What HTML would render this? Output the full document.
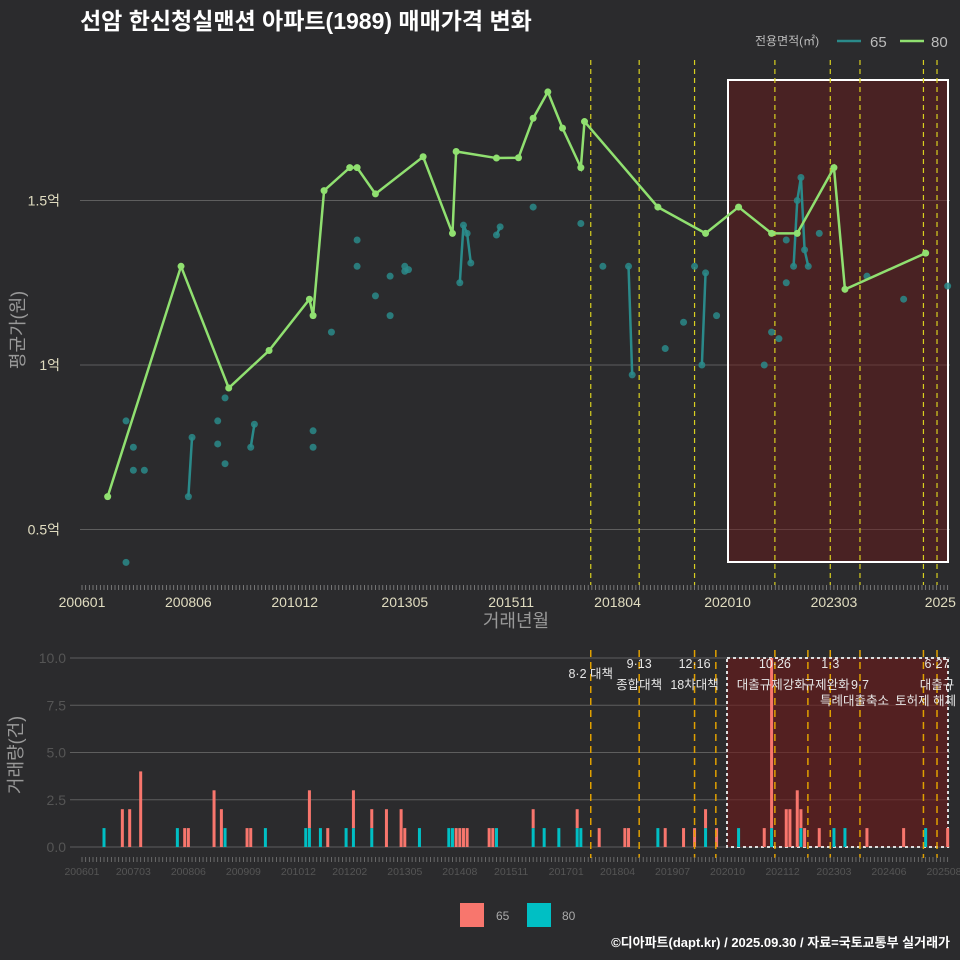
<!DOCTYPE html>
<html><head><meta charset="utf-8">
<style>
html,body{margin:0;padding:0;background:#2b2b2d;}
svg{display:block;font-family:"Liberation Sans","Noto Sans CJK KR",sans-serif;}
</style></head>
<body>
<svg id="c" width="960" height="960" viewBox="0 0 960 960">
<rect x="0" y="0" width="960" height="960" fill="#2b2b2d"/>
<text x="80" y="29" fill="#ffffff" font-size="23" font-weight="bold">선암 한신청실맨션 아파트(1989) 매매가격 변화</text>
<g>
<text x="755" y="45" fill="#bbbbbb" font-size="12">전용면적(㎡)</text>
<line x1="837" y1="41" x2="861" y2="41" stroke="#2a8a8a" stroke-width="2.5"/>
<text x="870" y="47" fill="#bbbbbb" font-size="15">65</text>
<line x1="900" y1="41" x2="924" y2="41" stroke="#90e070" stroke-width="2.5"/>
<text x="931" y="47" fill="#bbbbbb" font-size="15">80</text>
</g>
<g id="topG"></g>
<g id="botG"></g>
<text x="516" y="627" fill="#999999" font-size="18" text-anchor="middle">거래년월</text>
<text transform="translate(24,330) rotate(-90)" fill="#999999" font-size="18" text-anchor="middle">평균가(원)</text>
<text transform="translate(22,755) rotate(-90)" fill="#999999" font-size="18" text-anchor="middle">거래량(건)</text>
<g>
<rect x="460" y="903" width="24" height="24" fill="#f8766d"/>
<text x="496" y="920" fill="#aaaaaa" font-size="12">65</text>
<rect x="527" y="903" width="24" height="24" fill="#00bfc4"/>
<text x="562" y="920" fill="#aaaaaa" font-size="12">80</text>
</g>
<text x="950" y="947" fill="#ffffff" font-size="13" font-weight="bold" text-anchor="end">©디아파트(dapt.kr) / 2025.09.30 / 자료=국토교통부 실거래가</text>
</svg>
<script>
// months since 2006-01
const months80 = [7,27,40,51,62,63,66,73,75,80,93,101,102,113,119,123,127,131,136,137,157,170,179,188,195,205,208,230];
const price80 = [0.60,1.30,0.93,1.044,1.20,1.15,1.53,1.60,1.60,1.52,1.633,1.40,1.649,1.629,1.63,1.75,1.83,1.72,1.60,1.74,1.48,1.40,1.48,1.40,1.40,1.60,1.23,1.34];
const months65 = [12,12,14,14,17,29,30,37,37,39,39,46,47,63,63,68,75,75,80,84,84,88,88,89,103,104,105,106,113,114,123,136,142,149,150,159,164,167,169,170,173,186,188,190,192,192,194,195,196,197,198,201,214,224,236];
const price65 = [0.83,0.40,0.75,0.68,0.68,0.60,0.78,0.83,0.76,0.90,0.70,0.75,0.82,0.80,0.75,1.10,1.38,1.30,1.21,1.27,1.15,1.30,1.285,1.29,1.25,1.425,1.40,1.31,1.395,1.42,1.48,1.43,1.30,1.30,0.97,1.05,1.13,1.30,1.00,1.28,1.15,1.00,1.10,1.08,1.38,1.25,1.30,1.50,1.57,1.35,1.30,1.40,1.27,1.20,1.24];
const yTicks = [0.5,1,1.5];
const yTickLabels = ["0.5억","1억","1.5억"];
const xTickMonths = [0,29,58,88,117,146,176,205,234];
const xTickLabels = ["200601","200806","201012","201305","201511","201804","202010","202303","2025"];
const volMonths65 = [11,13,16,28,29,36,38,45,46,62,67,74,79,83,87,88,102,103,104,105,111,112,123,135,141,148,149,159,164,167,170,173,186,188,192,193,195,196,197,201,214,224,236];
const volCount65 = [2,2,4,1,1,3,2,1,1,2,1,2,1,2,2,1,1,1,1,1,1,1,1,1,1,1,1,1,1,1,1,1,1,9,2,2,3,1,1,1,1,1,1];
const volMonths80 = [6,26,39,50,61,62,65,72,74,79,92,100,101,113,123,126,130,135,136,157,170,179,188,196,205,208,230];
const volCount80 = [1,1,1,1,1,1,1,1,1,1,1,1,1,1,1,1,1,1,1,1,1,1,1,1,1,1,1];
const volTicks = [0,2.5,5,7.5,10];
const volTickLabels = ["0.0","2.5","5.0","7.5","10.0"];
const botTickMonths = [0,14,29,44,59,73,88,103,117,132,146,161,176,191,205,220,235];
const botTickLabels = ["200601","200703","200806","200909","201012","201202","201305","201408","201511","201701","201804","201907","202010","202112","202303","202406","202508"];
const policyX = [138.7,151.9,167.0,172.8,188.9,197.9,204.0,212.1,229.4,233.1];
const policyTop = [true,true,true,false,true,false,true,true,true,true];
const annotations = [["8·2 대책",138.7,678],["9·13",151.9,668],["종합대책",151.9,689],["12·16",167.0,668],["18차대책",167.0,689],["10·26",188.9,668],["대출규제강화",187.9,689],["1·3",204.0,668],["규제완화",203.0,689],["9·7",212.1,689],["특례대출축소",210.6,705],["토허제 해제",230.0,705],["6·27",233.1,668],["대출규",233.1,689]];

const NS="http://www.w3.org/2000/svg";
function mk(tag,attrs,parent){const e=document.createElementNS(NS,tag);for(const k in attrs)e.setAttribute(k,attrs[k]);parent.appendChild(e);return e;}
const X = m => 82 + m*3.668;
const Y = v => 365 - (v-1)*329;
const VY = v => 847 - v*18.9;
const topG=document.getElementById('topG'), botG=document.getElementById('botG');

yTicks.forEach((t,i)=>{
  const l=mk('line',{x1:80,x2:950,y1:Y(t),y2:Y(t),stroke:'#5e5e5e','stroke-width':1},topG);
  
  
  const tx=mk('text',{x:60,y:Y(t)+5,fill:'#e0dcc0','font-size':14,'text-anchor':'end'},topG);
  tx.textContent=yTickLabels[i];
  
  
});
const hr=mk('rect',{x:728,y:80,width:220,height:482,fill:'rgba(110,25,25,0.45)',stroke:'#ffffff','stroke-width':2},topG);


policyX.forEach((m,i)=>{
  if(!policyTop[i])return;
  const l=mk('line',{x1:X(m),x2:X(m),y1:60,y2:585,stroke:'#d8d020','stroke-width':1.2,'stroke-dasharray':'5,4'},topG);
  
  
});
for(let m=0;m<=236;m++){
  const l=mk('line',{x1:X(m),x2:X(m),y1:585,y2:590,stroke:'#888','stroke-width':0.8},topG);
  
  
}
xTickMonths.forEach((m,i)=>{
  const tx=mk('text',{x:X(m),y:607,fill:'#e0dcc0','font-size':14,'text-anchor':'middle'},topG);
  tx.textContent=xTickLabels[i];
  
  
});
for(let i=0;i<months65.length-1;i++){
  if(months65[i+1]-months65[i]===1){
    const l=mk('line',{x1:X(months65[i]),y1:Y(price65[i]),x2:X(months65[i+1]),y2:Y(price65[i+1]),stroke:'#2a8a8a','stroke-width':2.5},topG);
    
    
  }
}
months65.forEach((m,i)=>{
  const c=mk('circle',{cx:X(m),cy:Y(price65[i]),r:3.5,fill:'#2a8a8a','fill-opacity':0.85},topG);
  
  
});
const pts=months80.map((m,i)=>X(m)+','+Y(price80[i])).join(' ');
const pl=mk('polyline',{points:pts,fill:'none',stroke:'#90e070','stroke-width':2.5},topG);


months80.forEach((m,i)=>{
  const c=mk('circle',{cx:X(m),cy:Y(price80[i]),r:3.5,fill:'#90e070'},topG);
  
  
});

volTicks.forEach((t,i)=>{
  const l=mk('line',{x1:70,x2:950,y1:VY(t),y2:VY(t),stroke:'#5e5e5e','stroke-width':1},botG);
  
  
  const tx=mk('text',{x:66,y:VY(t)+5,fill:'#555555','font-size':14,'text-anchor':'end'},botG);
  tx.textContent=volTickLabels[i];
  
  
});
const hb=mk('rect',{x:727,y:658,width:221,height:189,fill:'rgba(110,25,25,0.6)',stroke:'#dddddd','stroke-width':2,'stroke-dasharray':'3,3'},botG);


const base={};
volMonths80.forEach((m,i)=>{
  const r=mk('rect',{x:X(m)-1.5,y:VY(volCount80[i]),width:3,height:volCount80[i]*18.9,fill:'#00bfc4'},botG);
  
  
  base[m]=volCount80[i];
});
volMonths65.forEach((m,i)=>{
  const b=base[m]||0;
  const r=mk('rect',{x:X(m)-1.5,y:VY(b+volCount65[i]),width:3,height:volCount65[i]*18.9,fill:'#f8766d'},botG);
  
  
});
policyX.forEach((m,i)=>{
  const l=mk('line',{x1:X(m),x2:X(m),y1:650,y2:858,stroke:'#e0a000','stroke-width':1.5,'stroke-dasharray':'7,5'},botG);
  
  
});
annotations.forEach(a=>{
  const tx=mk('text',{x:X(a[1]),y:a[2],fill:'#e6e6e6','font-size':12.5,'text-anchor':'middle'},botG);
  tx.textContent=a[0];
  
  
});
for(let m=0;m<=236;m++){
  const l=mk('line',{x1:X(m),x2:X(m),y1:857,y2:862,stroke:'#777','stroke-width':0.8},botG);
  
  
}
botTickMonths.forEach((m,i)=>{
  const tx=mk('text',{x:X(m),y:875,fill:'#555555','font-size':10.5,'text-anchor':'middle'},botG);
  tx.textContent=botTickLabels[i];
  
  
});
</script>
</body></html>
